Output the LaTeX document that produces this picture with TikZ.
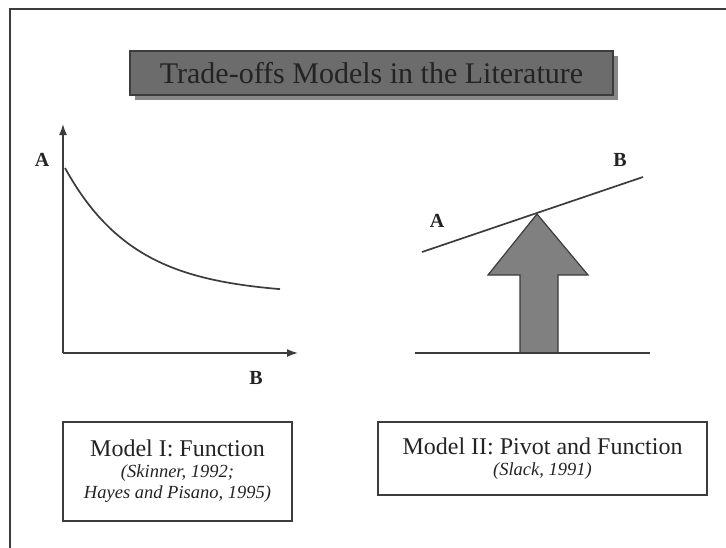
\documentclass[tikz,border=0pt]{standalone}
\usepackage{fontspec}
\setmainfont{Liberation Serif}
\usetikzlibrary{arrows.meta,positioning,shadows}
\definecolor{inkgray}{RGB}{35,35,35}
\definecolor{linegray}{RGB}{60,60,60}
\definecolor{titlefill}{RGB}{108,108,108}
\definecolor{titleshade}{RGB}{135,135,135}
\definecolor{pivotfill}{RGB}{128,128,128}

\begin{document}
\begin{tikzpicture}[
    x=1pt,y=-1pt,
    titlebox/.style={rectangle,draw=linegray,fill=titlefill,line width=1.2pt,
      minimum width=483pt,minimum height=44pt,inner sep=0pt,text=inkgray,
      font=\fontsize{30}{30}\selectfont,
      drop shadow={shadow xshift=5pt,shadow yshift=-5pt,fill=titleshade,opacity=1}},
    modelbox/.style={rectangle,draw=linegray,line width=1.3pt,inner sep=0pt,
      align=center,text=inkgray,font=\fontsize{18.5}{21}\selectfont},
    axislabel/.style={font=\bfseries\fontsize{20}{20}\selectfont,text=inkgray,inner sep=0pt},
    axis/.style={-{Latex[length=11pt,width=8pt]},line width=1.5pt,draw=linegray},
    thinline/.style={line width=1.7pt,draw=linegray},
    pivot/.style={draw=linegray,fill=pivotfill,line width=1.2pt,line join=miter}
  ]
    \useasboundingbox (0,0) rectangle (726,547);
    \draw[line width=2pt,draw=linegray] (10,560) -- (10,9) -- (740,9);

    \node[titlebox] (title) at (371.5,73) {Trade-offs Models in the Literature};

    \coordinate (origin) at (63,353);
    \coordinate (ytip) at (63,124);
    \coordinate (xtip) at (298,353);
    \draw[axis] (origin) -- (ytip);
    \draw[axis] (origin) -- (xtip);
    \node[axislabel] (la) at (42,160) {A};
    \node[axislabel] (lb) at (256,378) {B};
    \draw[thinline,domain=65:280,samples=60,smooth]
      plot (\x,{295-127*exp(-(\x-65)/70)});

    \coordinate (beamA) at (422,252);
    \coordinate (beamB) at (643,177);
    \coordinate (gndL) at (415,353);
    \coordinate (gndR) at (650,353);
    \draw[pivot] (520,353) -- (520,275) -- (488,275) -- (537,214) -- (588,275)
      -- (558,275) -- (558,353);
    \draw[thinline] (beamA) -- (beamB);
    \draw[thinline] (gndL) -- (gndR);
    \node[axislabel] (ra) at (437,221) {A};
    \node[axislabel] (rb) at (620,160) {B};

    \node[modelbox,minimum width=229pt,minimum height=99pt] (modelone) at (177.5,471.5)
      {{\fontsize{24}{28}\selectfont Model I: Function}\\
       \itshape (Skinner, 1992;\\ \itshape Hayes and Pisano, 1995)};
    \node[modelbox,minimum width=329pt,minimum height=73pt] (modeltwo) at (542.5,458.5)
      {{\fontsize{24}{24}\selectfont Model II: Pivot and Function}\\
       \itshape (Slack, 1991)};
  \end{tikzpicture}
\end{document}
